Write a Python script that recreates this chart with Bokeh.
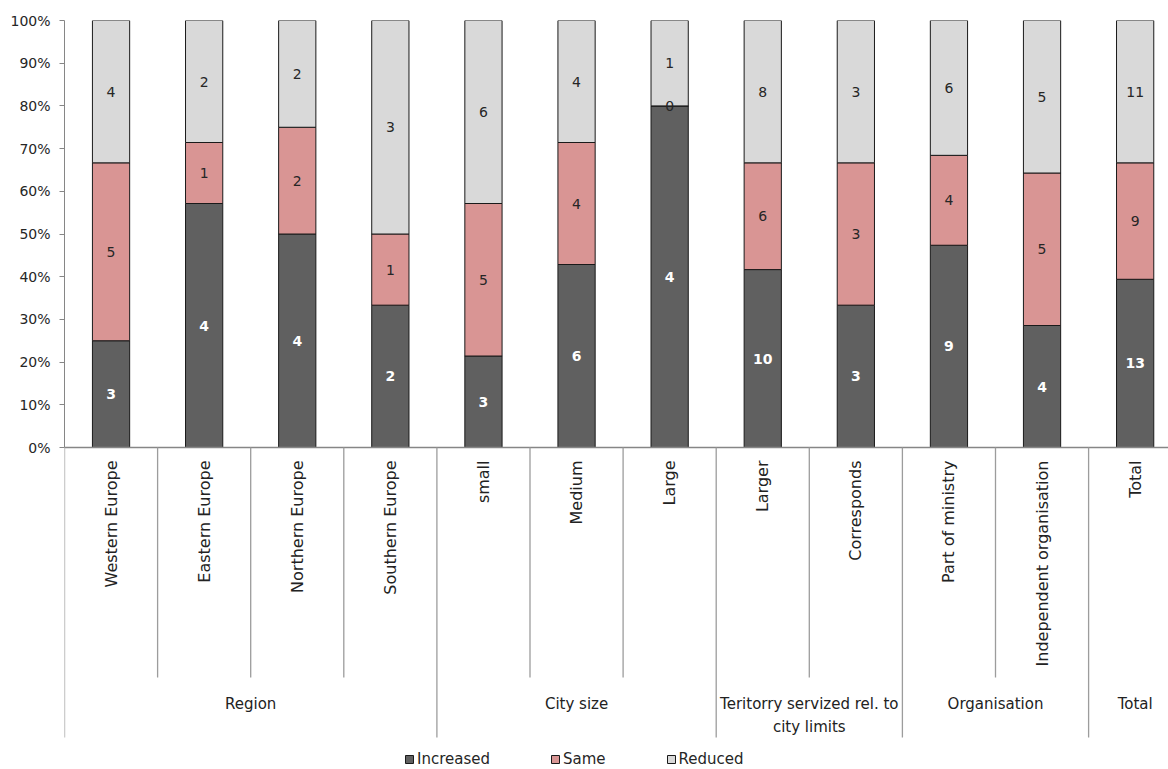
import numpy as np
from bokeh.plotting import figure
from bokeh.models import (ColumnDataSource, Range1d, LinearAxis, FixedTicker,
                          NumeralTickFormatter, Legend)
from bokeh.core.properties import value
from bokeh.embed import file_html
from bokeh.resources import INLINE

# ---------------- data ----------------
categories = ["Western Europe", "Eastern Europe", "Northern Europe", "Southern Europe",
              "small", "Medium", "Large", "Larger", "Corresponds",
              "Part of ministry", "Independent organisation", "Total"]
groups = ["Region", "City size", "Teritorry servized rel. to\ncity limits",
          "Organisation", "Total"]
group_sizes = [4, 3, 2, 2, 1]
increased = [3, 4, 4, 2, 3, 6, 4, 10, 3, 9, 4, 13]
same = [5, 1, 2, 1, 5, 4, 0, 6, 3, 4, 5, 9]
reduced = [4, 2, 2, 3, 6, 4, 1, 8, 3, 6, 5, 11]
series = ["Increased", "Same", "Reduced"]
y_ticks = [0, 0.1, 0.2, 0.3, 0.4, 0.5, 0.6, 0.7, 0.8, 0.9, 1.0]

colors = ["#606060", "#D99594", "#D9D9D9"]
FONT = "DejaVu Sans"

# ---------------- derived ----------------
inc = np.array(increased, float)
sam = np.array(same, float)
red = np.array(reduced, float)
tot = inc + sam + red
f_inc, f_sam, f_red = inc / tot, sam / tot, red / tot
xpos = np.arange(len(categories)) + 0.5

src = ColumnDataSource(dict(x=xpos, Increased=f_inc, Same=f_sam, Reduced=f_red))

# layout constants (px): frame 64..1168 x 20..769, 0% at y=447, 427 px per 100%
W, H = 1168, 769
PX = 427.0
y_bottom = -(H - 447) / PX
x_end = (W - 64) / 93.1

p = figure(width=W, height=H, output_backend="svg", toolbar_location=None,
           x_range=Range1d(0, x_end), y_range=Range1d(y_bottom, 1.0),
           x_axis_location=None, y_axis_location=None,
           min_border_left=64, min_border_right=0, min_border_top=20,
           min_border_bottom=0)
p.outline_line_color = None
p.xgrid.visible = False
p.ygrid.visible = False

yaxis = LinearAxis(bounds=(0, 1), ticker=FixedTicker(ticks=y_ticks),
                   formatter=NumeralTickFormatter(format="0%"))
yaxis.axis_line_color = "#868686"
yaxis.major_tick_line_color = "#868686"
yaxis.major_tick_out = 5
yaxis.major_tick_in = 0
yaxis.minor_tick_line_color = None
yaxis.major_label_text_font = FONT
yaxis.major_label_text_font_size = "14px"
yaxis.major_label_text_color = "#262626"
yaxis.major_label_standoff = 9
p.add_layout(yaxis, "left")

renderers = p.vbar_stack(series, x="x", width=0.4, source=src, color=colors,
                         line_color="#1a1a1a", line_width=1)

# ---------------- axis-like structure ----------------
p.segment(x0=[0], y0=[0], x1=[x_end], y1=[0], line_color="#868686", line_width=1.3)
bounds = np.cumsum([0] + group_sizes)
outer = list(bounds)
inner = [i for i in range(1, len(categories)) if i not in outer]
y_inner = -(677 - 447) / PX
y_outer = -(737 - 447) / PX
p.segment(x0=inner, y0=[0] * len(inner), x1=inner, y1=[y_inner] * len(inner),
          line_color="#9c9c9c", line_width=1.3)
p.segment(x0=outer, y0=[0] * len(outer), x1=outer, y1=[y_outer] * len(outer),
          line_color="#9c9c9c", line_width=1.3)

p.text(x=xpos, y=[-(460 - 447) / PX] * len(categories), text=categories,
       angle=np.pi / 2, text_align="right", text_baseline="middle",
       text_font=value(FONT), text_font_size="16px", text_color="#222222")

gcent = (bounds[:-1] + bounds[1:]) / 2.0
p.text(x=gcent, y=[-(694 - 447) / PX] * len(groups), text=groups,
       text_align="center", text_baseline="top", text_line_height=1.3,
       text_font=value(FONT), text_font_size="15px", text_color="#222222")

# ---------------- value labels ----------------
p.text(x=xpos, y=f_inc / 2, text=[str(v) for v in increased],
       text_align="center", text_baseline="middle", text_font=value(FONT),
       text_font_size="14px", text_font_style="bold", text_color="white")
p.text(x=xpos, y=f_inc + f_sam / 2, text=[str(v) for v in same],
       text_align="center", text_baseline="middle", text_font=value(FONT),
       text_font_size="14px", text_color="#262626")
p.text(x=xpos, y=f_inc + f_sam + f_red / 2, text=[str(v) for v in reduced],
       text_align="center", text_baseline="middle", text_font=value(FONT),
       text_font_size="14px", text_color="#262626")

# ---------------- legend ----------------
legend = Legend(items=[(s, [r]) for s, r in zip(series, renderers)],
                location=(340, 1), orientation="horizontal")
legend.spacing = 60
legend.glyph_width = 10
legend.glyph_height = 10
legend.label_standoff = 3
legend.padding = 0
legend.margin = 0
legend.border_line_color = None
legend.background_fill_alpha = 0
legend.label_text_font = FONT
legend.label_text_font_size = "15px"
legend.label_text_color = "#262626"
legend.label_height = 15
p.add_layout(legend, "center")

open("out.html", "w").write(file_html(p, INLINE))
